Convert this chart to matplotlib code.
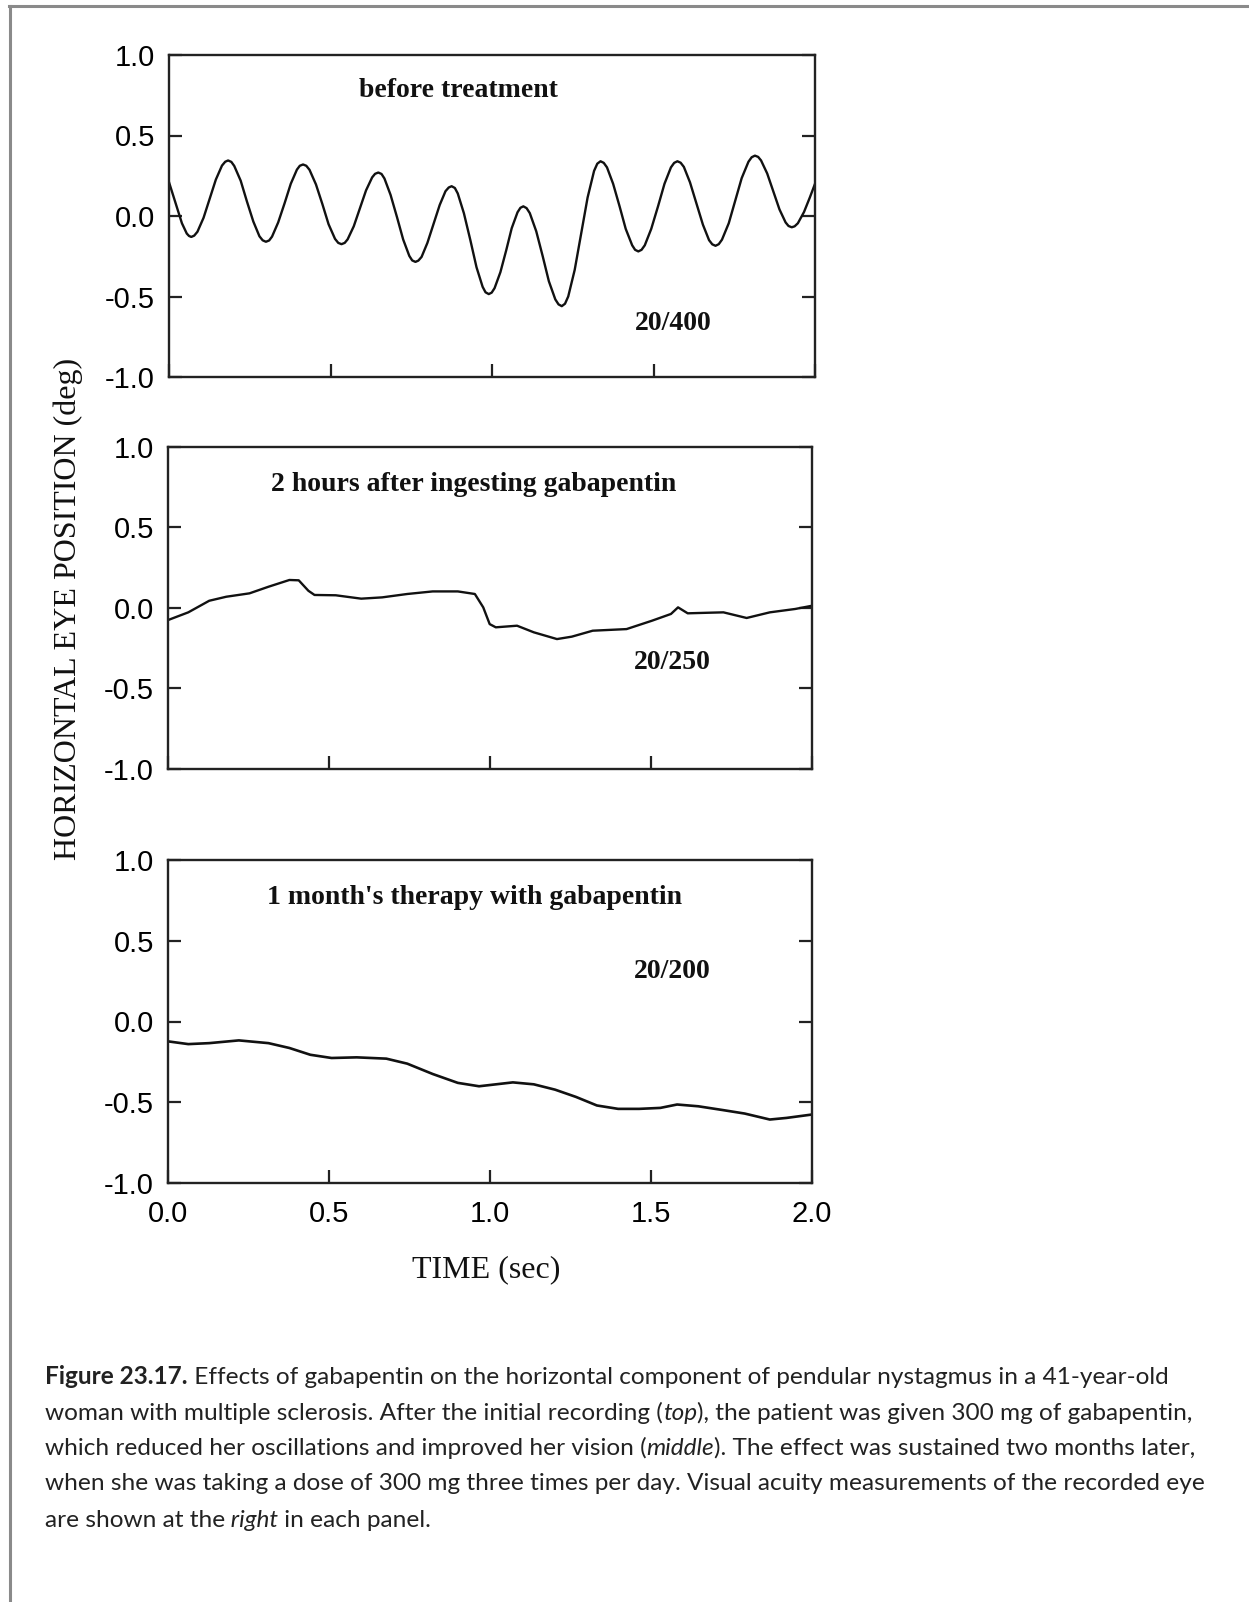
import matplotlib
matplotlib.use("Agg")
import matplotlib.pyplot as plt
from matplotlib.lines import Line2D

# ---- datos ----
# panel de arriba: antes del tratamiento (oscilacion pendular)
t_before = [0.0, 0.02, 0.04, 0.055, 0.062, 0.069,
            0.078, 0.088, 0.107, 0.126, 0.145, 0.164, 0.174, 0.183,
            0.193, 0.202, 0.222, 0.241, 0.261, 0.280, 0.290, 0.300,
            0.310, 0.319, 0.338, 0.358, 0.377, 0.396, 0.405, 0.415,
            0.425, 0.435, 0.455, 0.475, 0.494, 0.514, 0.524, 0.534,
            0.544, 0.553, 0.572, 0.591, 0.610, 0.629, 0.638, 0.648,
            0.658, 0.667, 0.686, 0.706, 0.725, 0.744, 0.753, 0.763,
            0.772, 0.782, 0.800, 0.819, 0.838, 0.856, 0.866, 0.875,
            0.885, 0.894, 0.913, 0.933, 0.952, 0.971, 0.980, 0.990,
            0.999, 1.008, 1.026, 1.044, 1.061, 1.079, 1.088, 1.097,
            1.107, 1.117, 1.137, 1.157, 1.176, 1.196, 1.206, 1.216,
            1.226, 1.236, 1.256, 1.276, 1.296, 1.316, 1.326, 1.336,
            1.346, 1.356, 1.375, 1.395, 1.414, 1.434, 1.443, 1.453,
            1.463, 1.473, 1.493, 1.514, 1.534, 1.554, 1.564, 1.574,
            1.584, 1.594, 1.613, 1.633, 1.653, 1.672, 1.682, 1.692,
            1.702, 1.712, 1.733, 1.753, 1.773, 1.794, 1.804, 1.814,
            1.824, 1.833, 1.852, 1.871, 1.890, 1.909, 1.918, 1.928,
            1.937, 1.947, 1.966, 1.984, 2.0]
pos_before = [0.21, 0.082, -0.045, -0.109, -0.124, -0.13,
              -0.122, -0.098, -0.011, 0.108, 0.226, 0.313, 0.337, 0.345,
              0.336, 0.311, 0.219, 0.092, -0.034, -0.126, -0.151, -0.16,
              -0.152, -0.128, -0.04, 0.08, 0.2, 0.288, 0.312, 0.32,
              0.312, 0.287, 0.196, 0.073, -0.051, -0.142, -0.167, -0.175,
              -0.167, -0.145, -0.064, 0.048, 0.159, 0.24, 0.262, 0.27,
              0.261, 0.233, 0.131, -0.008, -0.146, -0.248, -0.276, -0.285,
              -0.277, -0.254, -0.167, -0.05, 0.068, 0.154, 0.177, 0.185,
              0.174, 0.14, 0.017, -0.15, -0.318, -0.44, -0.474, -0.485,
              -0.476, -0.448, -0.349, -0.213, -0.076, 0.023, 0.051, 0.06,
              0.049, 0.018, -0.095, -0.25, -0.405, -0.518, -0.549, -0.56,
              -0.545, -0.5, -0.335, -0.11, 0.115, 0.28, 0.325, 0.34,
              0.33, 0.302, 0.2, 0.06, -0.08, -0.182, -0.21, -0.22,
              -0.21, -0.182, -0.08, 0.06, 0.2, 0.302, 0.33, 0.34,
              0.331, 0.305, 0.209, 0.078, -0.054, -0.15, -0.176, -0.185,
              -0.175, -0.147, -0.045, 0.095, 0.235, 0.337, 0.365, 0.375,
              0.367, 0.345, 0.264, 0.153, 0.041, -0.04, -0.062, -0.07,
              -0.064, -0.045, 0.025, 0.115, 0.2]

# panel del medio: 2 horas despues
t_2h = [0.0, 0.063, 0.128, 0.181, 0.253, 0.312, 0.377, 0.406, 0.436, 0.455,
        0.521, 0.60, 0.665, 0.743, 0.822, 0.90, 0.953, 0.979, 0.999, 1.018,
        1.084, 1.136, 1.208, 1.254, 1.319, 1.424, 1.503, 1.562, 1.584, 1.614,
        1.686, 1.725, 1.797, 1.869, 1.948, 2.0]
pos_2h = [-0.075, -0.027, 0.045, 0.07, 0.091, 0.132, 0.174, 0.172, 0.107, 0.081,
          0.079, 0.058, 0.066, 0.087, 0.103, 0.103, 0.087, 0.004, -0.1, -0.12,
          -0.11, -0.151, -0.193, -0.178, -0.141, -0.131, -0.079, -0.037, 0.004, -0.033,
          -0.029, -0.027, -0.062, -0.027, -0.006, 0.014]

# panel de abajo: 1 mes de terapia
t_1m = [0.0, 0.063, 0.128, 0.22, 0.312, 0.377, 0.442, 0.508, 0.586, 0.678,
        0.743, 0.822, 0.90, 0.966, 1.071, 1.136, 1.202, 1.267, 1.332, 1.398,
        1.463, 1.529, 1.581, 1.647, 1.725, 1.791, 1.869, 1.921, 2.0]
pos_1m = [-0.123, -0.14, -0.134, -0.117, -0.134, -0.164, -0.206, -0.226, -0.222, -0.23,
          -0.261, -0.325, -0.38, -0.401, -0.377, -0.389, -0.422, -0.467, -0.52, -0.541,
          -0.541, -0.535, -0.514, -0.525, -0.549, -0.57, -0.607, -0.597, -0.576]

panel_titles = ["before treatment", "2 hours after ingesting gabapentin",
                "1 month's therapy with gabapentin"]
acuity = ["20/400", "20/250", "20/200"]

y_ticks = [-1.0, -0.5, 0.0, 0.5, 1.0]
y_ticklabels = ["-1.0", "-0.5", "0.0", "0.5", "1.0"]
x_ticks = [0.0, 0.5, 1.0, 1.5, 2.0]
x_ticklabels = ["0.0", "0.5", "1.0", "1.5", "2.0"]

caption = [
    [("Figure 23.17.", "bold"),
     (" Effects of gabapentin on the horizontal component of pendular nystagmus in a 41-year-old", "normal")],
    [("woman with multiple sclerosis. After the initial recording (", "normal"), ("top", "italic"),
     ("), the patient was given 300 mg of gabapentin,", "normal")],
    [("which reduced her oscillations and improved her vision (", "normal"), ("middle", "italic"),
     ("). The effect was sustained two months later,", "normal")],
    [("when she was taking a dose of 300 mg three times per day. Visual acuity measurements of the recorded eye", "normal")],
    [("are shown at the", "normal"), (" right", "italic"), (" in each panel.", "normal")],
]

# ---- figura ----
W, H = 1249, 1602
fig = plt.figure(figsize=(W / 100, H / 100), dpi=100)
fig.patch.set_facecolor("white")


def add_px_axes(left, top, right, bottom):
    return fig.add_axes([left / W, 1 - bottom / H, (right - left) / W, (bottom - top) / H])


boxes = [(169, 55, 815, 377), (168, 447, 812, 769), (168, 860, 812, 1183)]
traces = [(t_before, pos_before), (t_2h, pos_2h), (t_1m, pos_1m)]
widths = [1.7, 1.7, 1.9]
title_xy = [(0.895, 0.78), (0.95, 0.77), (0.953, 0.77)]
acuity_xy = [(1.56, -0.67), (1.565, -0.34), (1.565, 0.31)]

serif = "Liberation Serif"
sans = "Liberation Sans"

for i, box in enumerate(boxes):
    ax = add_px_axes(*box)
    t, y = traces[i]
    ax.plot(t, y, color="#111111", lw=widths[i], solid_joinstyle="round")
    ax.set_xlim(0, 2)
    ax.set_ylim(-1, 1)
    for s in ax.spines.values():
        s.set_color("#222222")
        s.set_linewidth(1.7)
    ax.set_yticks(y_ticks)
    ax.set_yticklabels(y_ticklabels, family=sans, fontsize=21)
    ax.set_xticks(x_ticks)
    ax.set_xticklabels(x_ticklabels, family=sans, fontsize=21)
    ax.tick_params(axis="y", direction="in", length=9.5, width=1.6, color="#222222",
                   right=True, pad=10)
    ax.tick_params(axis="x", direction="in", length=9.5, width=1.6, color="#222222",
                   top=False, pad=12, labelbottom=(i == 2))
    ax.text(title_xy[i][0], title_xy[i][1], panel_titles[i], family=serif, weight="bold",
            fontsize=20, ha="center", va="center", color="#111111")
    ax.text(acuity_xy[i][0], acuity_xy[i][1], acuity[i], family=serif, weight="bold",
            fontsize=20, ha="center", va="center", color="#111111")

fig.text(68 / W, 1 - 609 / H, "HORIZONTAL EYE POSITION (deg)", family=serif, fontsize=23,
         rotation=90, ha="center", va="center", color="#111111")
fig.text(486 / W, 1 - 1270 / H, "TIME (sec)", family=serif, fontsize=23,
         ha="center", va="center", color="#111111")

# marco gris (solo arriba e izquierda)
fig.add_artist(Line2D([9 / W, 1], [1 - 6 / H, 1 - 6 / H], transform=fig.transFigure,
                      color="#8a8a8a", lw=2.2))
fig.add_artist(Line2D([10 / W, 10 / W], [1 - 6 / H, 0], transform=fig.transFigure,
                      color="#8a8a8a", lw=2.2))

# leyenda de la figura, trozo por trozo para las negritas y cursivas
cap_ax = fig.add_axes([0, 0, 1, 1])
cap_ax.axis("off")
cap_ax.set_xlim(0, W)
cap_ax.set_ylim(H, 0)
baselines = [1384, 1420, 1455, 1490, 1527]
for line, yb in zip(caption, baselines):
    prev = None
    for txt, style in line:
        kw = dict(family="Lato", fontsize=17.6, color="#222222",
                  weight="bold" if style == "bold" else "normal",
                  style="italic" if style == "italic" else "normal")
        if prev is None:
            prev = cap_ax.text(45, yb, txt, ha="left", va="baseline", **kw)
        else:
            prev = cap_ax.annotate(txt, xy=(1, 0), xycoords=prev, ha="left", va="bottom", **kw)

fig.savefig("out.png", dpi=100)
